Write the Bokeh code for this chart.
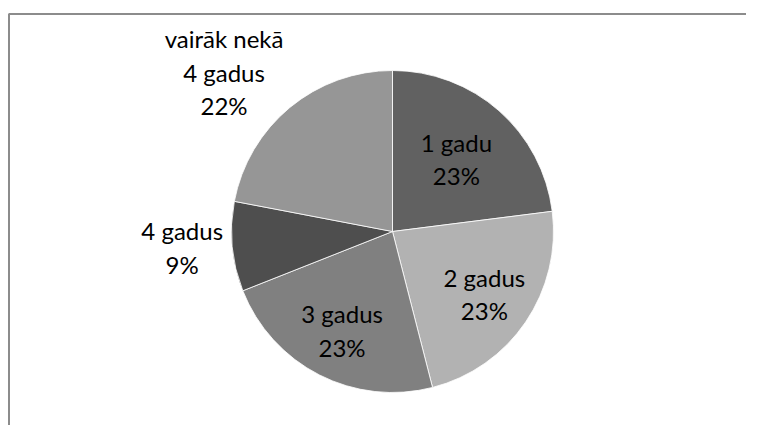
import math
from bokeh.plotting import figure
from bokeh.models import ColumnDataSource, Range1d
from bokeh.core.properties import value
from bokeh.embed import file_html
from bokeh.resources import INLINE

# ---- data ----
categories = ["1 gadu", "2 gadus", "3 gadus", "4 gadus", "vairāk nekā\n4 gadus"]
percents = [23, 23, 23, 9, 22]
colors = ["#616161", "#b2b2b2", "#808080", "#4e4e4e", "#969696"]

# ---- layout / style ----
W, H = 746, 425
CX, CY, R = 392, H - 231, 161
label_r = [0.60, 0.69, 0.69, 1.31, 1.44]      # radial distance of label, in radii
label_da = [0.0, 0.0, 0.0, -1.0, 7.0]          # angle nudge (deg)

total = float(sum(percents))
starts, ends, lx, ly, texts = [], [], [], [], []
cum = 0.0
for i, v in enumerate(percents):
    a0 = 90.0 - 360.0 * cum / total
    cum += v
    a1 = 90.0 - 360.0 * cum / total
    starts.append(math.radians(a0))
    ends.append(math.radians(a1))
    mid = math.radians((a0 + a1) / 2.0 + label_da[i])
    lx.append(CX + label_r[i] * R * math.cos(mid))
    ly.append(CY + label_r[i] * R * math.sin(mid))
    texts.append(f"{categories[i]}\n{v}%")

src = ColumnDataSource(dict(start=starts, end=ends, color=colors,
                            lx=lx, ly=ly, text=texts))

p = figure(width=W, height=H, output_backend="svg", toolbar_location=None,
           x_range=Range1d(0, W), y_range=Range1d(0, H),
           x_axis_location=None, y_axis_location=None, min_border=0,
           outline_line_color=None, tools="")
p.grid.visible = False
p.background_fill_color = "white"
p.border_fill_color = "white"

# chart-area border (left and top edges visible)
p.line(x=[8.5, 8.5, W], y=[0, H - 13.5, H - 13.5], line_color="#8c8c8c", line_width=2)

p.wedge(x=CX, y=CY, radius=R, start_angle="start", end_angle="end",
        direction="clock", fill_color="color", line_color="white",
        line_width=0.8, source=src)

p.text(x="lx", y="ly", text="text", source=src, text_align="center",
       text_baseline="middle", text_font=value("Lato"), text_font_size="24px",
       text_color="#000000", text_line_height=1.16)

open("out.html", "w").write(file_html(p, INLINE))
